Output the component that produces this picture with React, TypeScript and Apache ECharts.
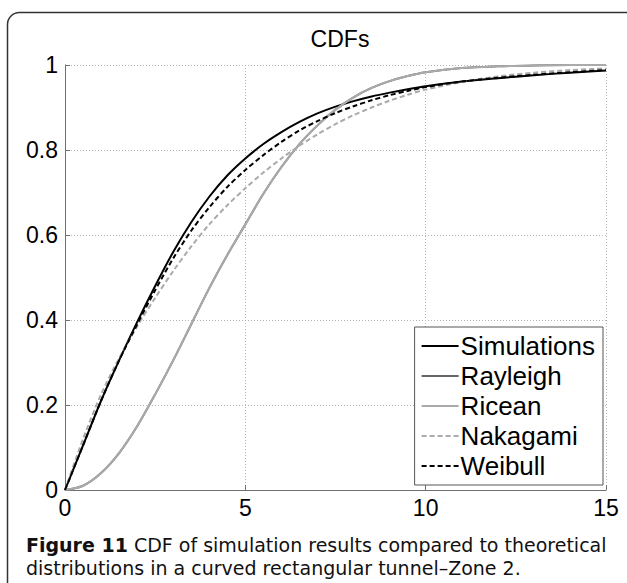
import React, { useEffect, useRef } from "react";
import * as echarts from "echarts";

const xValues = [0, 0.5, 1, 1.5, 2, 2.5, 3, 3.5, 4, 4.5, 5, 5.5, 6, 6.5, 7, 7.5, 8, 8.5, 9, 9.5, 10, 11, 12, 13, 14, 15];

const simulations = [0, 0.105, 0.21, 0.305, 0.395, 0.48, 0.56, 0.63, 0.69, 0.74, 0.78, 0.814, 0.842, 0.866, 0.886, 0.902, 0.915, 0.926, 0.935, 0.943, 0.95, 0.961, 0.969, 0.976, 0.982, 0.987];
const rayleigh = [0, 0.01, 0.04, 0.087, 0.15, 0.225, 0.305, 0.39, 0.475, 0.553, 0.625, 0.697, 0.76, 0.814, 0.858, 0.895, 0.924, 0.946, 0.962, 0.974, 0.983, 0.993, 0.997, 0.999, 1.0, 1.0];
const ricean = [0, 0.01, 0.04, 0.087, 0.15, 0.225, 0.305, 0.39, 0.475, 0.553, 0.625, 0.697, 0.76, 0.814, 0.858, 0.895, 0.924, 0.946, 0.962, 0.974, 0.983, 0.993, 0.997, 0.999, 1.0, 1.0];
const nakagami = [0, 0.12, 0.225, 0.31, 0.385, 0.452, 0.515, 0.573, 0.625, 0.67, 0.71, 0.747, 0.78, 0.81, 0.837, 0.861, 0.882, 0.9, 0.916, 0.93, 0.942, 0.96, 0.973, 0.982, 0.988, 0.992];
const weibull = [0, 0.105, 0.21, 0.305, 0.39, 0.47, 0.545, 0.61, 0.665, 0.713, 0.753, 0.788, 0.819, 0.846, 0.868, 0.887, 0.903, 0.917, 0.929, 0.939, 0.948, 0.961, 0.97, 0.977, 0.983, 0.988];

const seriesNames = ["Simulations", "Rayleigh", "Ricean", "Nakagami", "Weibull"];
const xTicks = [0, 5, 10, 15];
const yTicks = [0, 0.2, 0.4, 0.6, 0.8, 1];

const titleText = "CDFs";
const captionBold = "Figure 11";
const captionLine1 = " CDF of simulation results compared to theoretical";
const captionLine2 = "distributions in a curved rectangular tunnel\u2013Zone 2.";

const FONT = "'Liberation Sans', Arial, Helvetica, sans-serif";
const CAPTION_FONT = "'DejaVu Sans', 'Open Sans', sans-serif";

function pairs(ys: number[]) {
  return xValues.map((x, i) => [x, ys[i]]);
}

export default function App() {
  const ref = useRef<HTMLDivElement>(null);
  useEffect(() => {
    document.body.style.margin = "0";
    if (!ref.current) return;
    const chart = echarts.init(ref.current, null, { renderer: "svg" });
    const dataSets = [simulations, rayleigh, ricean, nakagami, weibull];
    const colors = ["#000000", "#666666", "#aaaaaa", "#aaaaaa", "#000000"];
    const types: any[] = ["solid", "solid", "solid", [5, 3], [5, 3]];
    chart.setOption({
      animation: false,
      backgroundColor: "#ffffff",
      title: {
        text: titleText,
        left: 335,
        textAlign: "center",
        top: 22,
        textStyle: { fontFamily: FONT, fontSize: 23, fontWeight: "normal", color: "#000" },
      },
      grid: { left: 65, right: 21, top: 65, bottom: 93, containLabel: false },
      xAxis: {
        type: "value",
        min: 0,
        max: 15,
        interval: 5,
        axisLine: { show: true, lineStyle: { color: "#707070", width: 1 } },
        axisTick: { show: true, inside: true, length: 5, lineStyle: { color: "#707070" } },
        axisLabel: { fontFamily: FONT, fontSize: 23, color: "#000", margin: 6, formatter: (v: number) => (xTicks.includes(v) ? String(v) : "") },
        splitLine: { show: true, lineStyle: { color: "#b5b5b5", type: [1, 2], width: 1 } },
      },
      yAxis: {
        type: "value",
        min: 0,
        max: 1,
        interval: 0.2,
        axisLine: { show: true, lineStyle: { color: "#707070", width: 1 } },
        axisTick: { show: true, inside: true, length: 5, lineStyle: { color: "#707070" } },
        axisLabel: {
          fontFamily: FONT,
          fontSize: 23,
          color: "#000",
          margin: 7,
          formatter: (v: number) => {
            const t = yTicks.find((k) => Math.abs(k - v) < 1e-6);
            if (t === undefined) return "";
            return t === 0 ? "0" : t === 1 ? "1" : t.toFixed(1);
          },
        },
        splitLine: { show: true, lineStyle: { color: "#b5b5b5", type: [1, 2], width: 1 } },
      },
      legend: {
        orient: "vertical",
        right: 24,
        top: 327,
        align: "left",
        backgroundColor: "#ffffff",
        borderColor: "#555555",
        borderWidth: 1,
        borderRadius: 0,
        padding: [6, 8, 6, 6],
        itemWidth: 37,
        itemHeight: 20,
        itemGap: 4,
        itemStyle: { opacity: 0 },
        textStyle: { fontFamily: FONT, fontSize: 26, lineHeight: 26, color: "#000", padding: [0, 0, 0, -3] },
        data: seriesNames,
      },
      series: seriesNames.map((name, i) => ({
        name,
        type: "line",
        data: pairs(dataSets[i]),
        smooth: 0.3,
        showSymbol: false,
        symbol: "none",
        lineStyle: { color: colors[i], width: 2, type: types[i] },
        itemStyle: { color: colors[i] },
        z: 2 + i,
      })),
      graphic: [
        {
          type: "rect",
          shape: { x: 7.5, y: 12.5, width: 700, height: 700, r: 12 },
          style: { fill: "none", stroke: "#333333", lineWidth: 1.5 },
          silent: true,
          z: 100,
        },
        {
          type: "text",
          x: 26,
          y: 545,
          style: {
            text: "{b|" + captionBold + "}" + captionLine1,
            fontFamily: CAPTION_FONT,
            fontSize: 19,
            fill: "#111",
            verticalAlign: "middle",
            rich: { b: { fontWeight: "bold", fontFamily: CAPTION_FONT, fontSize: 19, fill: "#111" } },
          },
        },
        {
          type: "text",
          x: 26,
          y: 568,
          style: {
            text: captionLine2,
            fontFamily: CAPTION_FONT,
            fontSize: 19,
            fill: "#111",
            verticalAlign: "middle",
          },
        },
      ],
    });
    return () => chart.dispose();
  }, []);
  return <div ref={ref} style={{ width: 627, height: 583 }} />;
}
